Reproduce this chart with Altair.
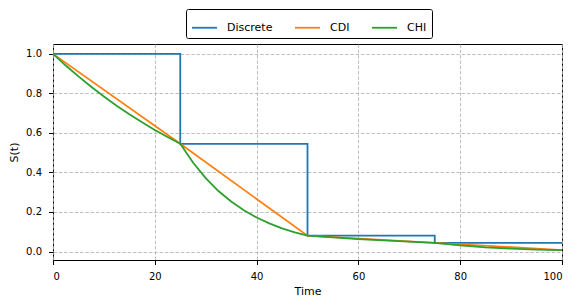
import altair as alt
import pandas as pd

# Discrete survival (step)
disc_t = [0, 25, 50, 75, 100]
disc_s = [1.0, 0.545, 0.08, 0.044, 0.044]

# CDI (linear between knots)
cdi_t = [0, 25, 50, 75, 100]
cdi_s = [1.0, 0.545, 0.08, 0.044, 0.007]

# CHI
chi_t = [0, 2.5, 5, 7.5, 10, 12.5, 15, 17.5, 20, 22.5, 25, 27.5, 30, 32.5, 35,
         37.5, 40, 42.5, 45, 47.5, 50, 55, 60, 65, 70, 75, 80, 85, 90, 95, 100]
chi_s = [1.0, 0.941, 0.886, 0.834, 0.784, 0.738, 0.695, 0.654, 0.615, 0.579,
         0.545, 0.450, 0.371, 0.306, 0.253, 0.209, 0.172, 0.142, 0.117, 0.097,
         0.080, 0.071, 0.063, 0.056, 0.050, 0.044, 0.031, 0.021, 0.015, 0.010,
         0.007]

series = ["Discrete", "CDI", "CHI"]
colors = ["#1f77b4", "#ff7f0e", "#2ca02c"]

rows = []
for t, s in zip(disc_t, disc_s):
    rows.append({"t": t, "s": s, "k": "Discrete"})
for t, s in zip(cdi_t, cdi_s):
    rows.append({"t": t, "s": s, "k": "CDI"})
for t, s in zip(chi_t, chi_s):
    rows.append({"t": t, "s": s, "k": "CHI"})
df = pd.DataFrame(rows)

FONT = "DejaVu Sans"

x = alt.X("t:Q", title="Time",
          scale=alt.Scale(domain=[0, 100], nice=False, zero=False),
          axis=alt.Axis(values=[0, 20, 40, 60, 80, 100], format="d",
                        grid=True, gridColor="#b0b0b0", gridDash=[3.5, 1.8],
                        gridWidth=0.8, domain=False, tickColor="black",
                        tickSize=4.5, labelPadding=6.5, titlePadding=4,
                        labelFontSize=10, titleFontSize=11,
                        labelFont=FONT, titleFont=FONT,
                        titleFontWeight="normal", labelColor="black",
                        titleColor="black"))
y = alt.Y("s:Q", title="S(t)",
          scale=alt.Scale(domain=[-0.043, 1.05], nice=False, zero=False),
          axis=alt.Axis(values=[0, 0.2, 0.4, 0.6, 0.8, 1.0], format=".1f",
                        grid=True, gridColor="#b0b0b0", gridDash=[3.5, 1.8],
                        gridWidth=0.8, domain=False, tickColor="black",
                        tickSize=4.5, labelPadding=7, titlePadding=6,
                        labelFontSize=10, titleFontSize=11,
                        labelFont=FONT, titleFont=FONT,
                        titleFontWeight="normal", labelColor="black",
                        titleColor="black"))
color = alt.Color("k:N", sort=series,
                  scale=alt.Scale(domain=series, range=colors),
                  legend=alt.Legend(title=None, orient="none",
                                    legendX=133, legendY=-35,
                                    direction="horizontal", columns=3,
                                    symbolType="stroke", symbolSize=625,
                                    symbolStrokeWidth=1.8, labelOffset=9,
                                    columnPadding=18, padding=5,
                                    strokeColor="black", cornerRadius=2,
                                    fillColor="white",
                                    labelFont=FONT, labelFontSize=11,
                                    labelColor="black"))

layers = []
for name in series:
    interp = "step-after" if name == "Discrete" else "linear"
    layers.append(
        alt.Chart(df).transform_filter(alt.datum.k == name)
        .mark_line(strokeWidth=1.8, interpolate=interp)
        .encode(x=x, y=y, color=color)
    )

chart = alt.layer(*layers).properties(
    width=509, height=216,
    autosize=alt.AutoSizeParams(type="none"),
    padding={"left": 45, "top": 36, "right": 11, "bottom": 40},
).configure_view(stroke="black", strokeWidth=1)

chart.save("out.html", embed_options={"renderer": "svg", "actions": False})
